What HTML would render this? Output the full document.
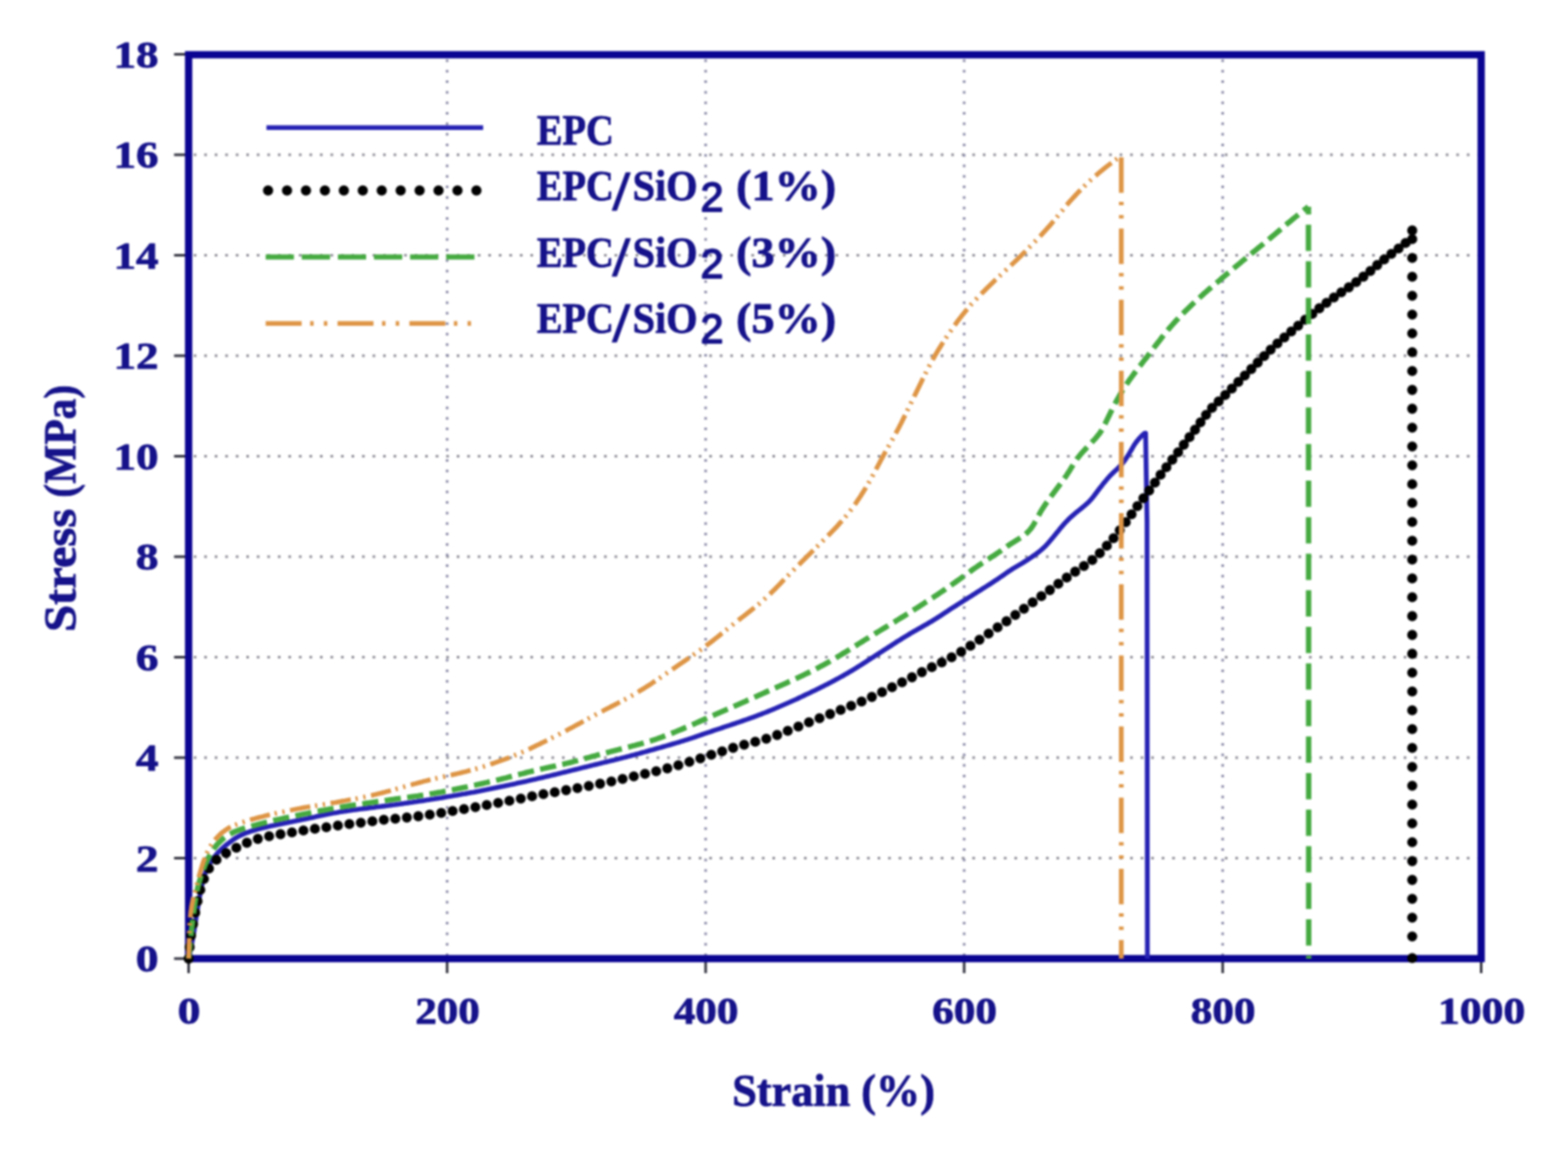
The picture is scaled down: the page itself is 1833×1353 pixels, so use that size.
<!DOCTYPE html>
<html><head><meta charset="utf-8"><title>Stress-strain curves</title>
<style>html,body{margin:0;padding:0;background:#fff;}body{width:1833px;height:1353px;overflow:hidden;}svg{display:block;filter:blur(1px);}</style>
</head><body>
<svg width="1833" height="1353" viewBox="0 0 1833 1353">
<style>text{stroke:#15128a;stroke-width:0.9px;stroke-linejoin:round;} text.sub{stroke-width:1.9px;}</style>
<rect width="1833" height="1353" fill="#ffffff"/>
<g stroke="#8c8c96" stroke-width="3" stroke-dasharray="3 9.3" fill="none"><line x1="226.5" y1="1003.5" x2="1727.5" y2="1003.5"/><line x1="226.5" y1="886.0" x2="1727.5" y2="886.0"/><line x1="226.5" y1="768.5" x2="1727.5" y2="768.5"/><line x1="226.5" y1="651.0" x2="1727.5" y2="651.0"/><line x1="226.5" y1="533.5" x2="1727.5" y2="533.5"/><line x1="226.5" y1="416.0" x2="1727.5" y2="416.0"/><line x1="226.5" y1="298.5" x2="1727.5" y2="298.5"/><line x1="226.5" y1="181.0" x2="1727.5" y2="181.0"/></g>
<g stroke="#8a8aa8" stroke-width="3" stroke-dasharray="3 9.3" fill="none"><line x1="522.7" y1="69.5" x2="522.7" y2="1117.0"/><line x1="824.9" y1="69.5" x2="824.9" y2="1117.0"/><line x1="1127.1" y1="69.5" x2="1127.1" y2="1117.0"/><line x1="1429.3" y1="69.5" x2="1429.3" y2="1117.0"/></g>
<g stroke="#333340" stroke-width="3" fill="none"><line x1="203.5" y1="1121.0" x2="220.5" y2="1121.0"/><line x1="203.5" y1="1003.5" x2="220.5" y2="1003.5"/><line x1="203.5" y1="886.0" x2="220.5" y2="886.0"/><line x1="203.5" y1="768.5" x2="220.5" y2="768.5"/><line x1="203.5" y1="651.0" x2="220.5" y2="651.0"/><line x1="203.5" y1="533.5" x2="220.5" y2="533.5"/><line x1="203.5" y1="416.0" x2="220.5" y2="416.0"/><line x1="203.5" y1="298.5" x2="220.5" y2="298.5"/><line x1="203.5" y1="181.0" x2="220.5" y2="181.0"/><line x1="203.5" y1="63.5" x2="220.5" y2="63.5"/><line x1="220.5" y1="1121.0" x2="220.5" y2="1138"/><line x1="522.7" y1="1121.0" x2="522.7" y2="1138"/><line x1="824.9" y1="1121.0" x2="824.9" y2="1138"/><line x1="1127.1" y1="1121.0" x2="1127.1" y2="1138"/><line x1="1429.3" y1="1121.0" x2="1429.3" y2="1138"/><line x1="1731.5" y1="1121.0" x2="1731.5" y2="1138"/></g>
<rect x="220.5" y="64.0" width="1511.0" height="1057.0" fill="none" stroke="#0a0492" stroke-width="8.5"/>
<path d="M220.5,1121.0 L221.0,1118.6 L221.6,1116.1 L222.1,1113.7 L222.7,1111.2 L223.2,1108.8 L223.7,1106.3 L224.1,1103.8 L224.6,1101.4 L225.1,1098.9 L225.5,1096.5 L225.9,1094.0 L226.4,1091.5 L226.8,1089.0 L227.2,1086.6 L227.5,1084.1 L227.9,1081.6 L228.3,1079.1 L228.7,1076.7 L229.1,1074.2 L229.4,1071.7 L229.8,1069.2 L230.2,1066.8 L230.6,1064.3 L231.1,1061.8 L231.5,1059.3 L231.9,1056.9 L232.4,1054.4 L232.8,1051.9 L233.2,1049.5 L233.7,1047.0 L234.1,1044.5 L234.6,1042.1 L235.1,1039.6 L235.6,1037.2 L236.1,1034.7 L236.6,1032.3 L237.2,1029.8 L237.9,1027.4 L238.6,1025.0 L239.4,1022.6 L240.3,1020.3 L241.2,1018.0 L242.3,1015.7 L243.4,1013.4 L244.6,1011.2 L245.8,1009.1 L247.1,1006.9 L248.6,1004.9 L250.0,1002.8 L251.6,1000.9 L253.2,998.9 L254.8,997.1 L256.6,995.2 L258.4,993.5 L260.2,991.8 L262.1,990.1 L264.0,988.5 L265.9,986.9 L267.9,985.4 L269.9,983.9 L271.9,982.4 L274.0,981.0 L276.1,979.7 L278.3,978.4 L280.5,977.2 L282.8,976.1 L285.1,975.1 L287.4,974.2 L289.7,973.3 L292.1,972.5 L294.5,971.7 L296.9,971.0 L299.3,970.3 L301.7,969.6 L304.1,969.0 L306.5,968.4 L309.0,967.7 L311.4,967.2 L313.9,966.6 L316.3,966.0 L318.7,965.5 L321.2,965.0 L323.6,964.5 L326.1,964.0 L328.6,963.5 L331.0,963.0 L333.5,962.6 L335.9,962.1 L338.4,961.6 L340.9,961.1 L343.3,960.6 L345.8,960.1 L348.2,959.6 L350.7,959.1 L353.1,958.6 L355.6,958.1 L358.0,957.5 L360.5,957.0 L362.9,956.4 L365.4,955.9 L367.8,955.4 L370.3,954.8 L372.7,954.3 L375.2,953.8 L377.6,953.2 L380.1,952.7 L382.5,952.2 L385.0,951.7 L387.5,951.3 L389.9,950.8 L392.4,950.4 L394.9,950.0 L397.3,949.5 L399.8,949.1 L402.3,948.8 L404.8,948.4 L407.2,948.0 L409.7,947.7 L412.2,947.3 L414.7,947.0 L417.2,946.7 L419.6,946.3 L422.1,946.0 L424.6,945.7 L427.1,945.4 L429.6,945.1 L432.1,944.8 L434.6,944.5 L437.1,944.2 L439.5,943.8 L442.0,943.5 L444.5,943.2 L447.0,942.9 L449.5,942.6 L452.0,942.3 L454.5,942.0 L456.9,941.6 L459.4,941.3 L461.9,941.0 L464.4,940.6 L466.9,940.3 L469.4,939.9 L471.8,939.6 L474.3,939.2 L476.8,938.9 L479.3,938.5 L481.8,938.2 L484.2,937.8 L486.7,937.5 L489.2,937.1 L491.7,936.7 L494.2,936.4 L496.6,936.0 L499.1,935.6 L501.6,935.2 L504.1,934.8 L506.5,934.5 L509.0,934.1 L511.5,933.7 L514.0,933.3 L516.4,932.9 L518.9,932.4 L521.4,932.0 L523.9,931.6 L526.3,931.2 L528.8,930.8 L531.3,930.3 L533.7,929.9 L536.2,929.5 L538.7,929.1 L541.1,928.6 L543.6,928.2 L546.1,927.7 L548.5,927.3 L551.0,926.8 L553.5,926.4 L555.9,925.9 L558.4,925.4 L560.9,925.0 L563.3,924.5 L565.8,924.0 L568.2,923.6 L570.7,923.1 L573.2,922.6 L575.6,922.1 L578.1,921.6 L580.5,921.1 L583.0,920.6 L585.4,920.1 L587.9,919.6 L590.3,919.0 L592.8,918.5 L595.2,918.0 L597.7,917.4 L600.1,916.9 L602.6,916.4 L605.0,915.8 L607.5,915.3 L609.9,914.8 L612.4,914.2 L614.8,913.7 L617.3,913.1 L619.7,912.5 L622.1,912.0 L624.6,911.4 L627.0,910.9 L629.5,910.3 L631.9,909.8 L634.4,909.2 L636.8,908.6 L639.2,908.0 L641.7,907.5 L644.1,906.9 L646.6,906.3 L649.0,905.7 L651.4,905.1 L653.9,904.5 L656.3,903.9 L658.7,903.3 L661.2,902.7 L663.6,902.1 L666.0,901.5 L668.5,900.9 L670.9,900.3 L673.3,899.7 L675.8,899.1 L678.2,898.5 L680.6,897.9 L683.0,897.3 L685.5,896.7 L687.9,896.1 L690.3,895.5 L692.8,894.9 L695.2,894.3 L697.6,893.7 L700.1,893.1 L702.5,892.5 L705.0,891.9 L707.4,891.3 L709.8,890.7 L712.3,890.1 L714.7,889.5 L717.1,889.0 L719.6,888.4 L722.0,887.7 L724.4,887.1 L726.8,886.5 L729.3,885.9 L731.7,885.3 L734.1,884.6 L736.6,884.0 L739.0,883.3 L741.4,882.7 L743.8,882.0 L746.2,881.4 L748.6,880.7 L751.1,880.0 L753.5,879.4 L755.9,878.7 L758.3,878.0 L760.7,877.3 L763.1,876.7 L765.5,876.0 L767.9,875.3 L770.4,874.6 L772.8,874.0 L775.2,873.3 L777.6,872.6 L780.0,871.9 L782.4,871.2 L784.8,870.5 L787.2,869.8 L789.6,869.1 L792.0,868.4 L794.4,867.7 L796.8,866.9 L799.2,866.2 L801.6,865.4 L804.0,864.7 L806.4,863.9 L808.8,863.1 L811.1,862.3 L813.5,861.5 L815.9,860.7 L818.2,859.8 L820.6,859.0 L823.0,858.2 L825.3,857.4 L827.7,856.6 L830.1,855.8 L832.5,855.0 L834.8,854.2 L837.2,853.4 L839.6,852.6 L842.0,851.8 L844.4,851.0 L846.7,850.2 L849.1,849.4 L851.5,848.6 L853.9,847.8 L856.2,847.0 L858.6,846.3 L861.0,845.4 L863.4,844.6 L865.7,843.8 L868.1,843.0 L870.5,842.2 L872.8,841.4 L875.2,840.5 L877.6,839.7 L879.9,838.8 L882.3,838.0 L884.6,837.1 L887.0,836.2 L889.3,835.3 L891.6,834.4 L894.0,833.5 L896.3,832.6 L898.6,831.6 L901.0,830.7 L903.3,829.7 L905.6,828.8 L907.9,827.8 L910.2,826.8 L912.5,825.8 L914.8,824.8 L917.1,823.8 L919.4,822.8 L921.7,821.8 L924.0,820.8 L926.2,819.7 L928.5,818.7 L930.8,817.7 L933.1,816.6 L935.3,815.5 L937.6,814.5 L939.9,813.4 L942.1,812.3 L944.4,811.2 L946.7,810.2 L948.9,809.1 L951.2,808.0 L953.4,806.9 L955.7,805.8 L957.9,804.7 L960.2,803.5 L962.4,802.4 L964.6,801.3 L966.9,800.2 L969.1,799.0 L971.3,797.9 L973.5,796.7 L975.8,795.5 L978.0,794.3 L980.2,793.1 L982.4,791.9 L984.6,790.7 L986.7,789.5 L988.9,788.2 L991.1,787.0 L993.3,785.7 L995.4,784.5 L997.6,783.2 L999.7,781.9 L1001.8,780.5 L1004.0,779.2 L1006.1,777.9 L1008.2,776.5 L1010.3,775.2 L1012.4,773.8 L1014.5,772.4 L1016.6,771.1 L1018.7,769.7 L1020.8,768.4 L1022.9,767.0 L1025.0,765.7 L1027.1,764.3 L1029.3,762.9 L1031.4,761.6 L1033.5,760.2 L1035.6,758.9 L1037.7,757.5 L1039.8,756.2 L1041.9,754.8 L1044.0,753.4 L1046.1,752.1 L1048.2,750.7 L1050.3,749.4 L1052.5,748.1 L1054.6,746.7 L1056.7,745.4 L1058.8,744.1 L1061.0,742.8 L1063.1,741.5 L1065.3,740.2 L1067.4,739.0 L1069.6,737.7 L1071.8,736.5 L1074.0,735.2 L1076.2,734.0 L1078.3,732.8 L1080.5,731.5 L1082.7,730.3 L1084.9,729.0 L1087.0,727.7 L1089.2,726.5 L1091.3,725.2 L1093.4,723.8 L1095.6,722.5 L1097.7,721.2 L1099.8,719.8 L1101.9,718.4 L1104.0,717.0 L1106.1,715.7 L1108.2,714.3 L1110.2,712.9 L1112.3,711.5 L1114.5,710.2 L1116.6,708.8 L1118.7,707.5 L1120.8,706.1 L1122.9,704.8 L1125.0,703.5 L1127.1,702.1 L1129.3,700.8 L1131.4,699.4 L1133.5,698.1 L1135.6,696.8 L1137.7,695.4 L1139.9,694.1 L1142.0,692.7 L1144.1,691.4 L1146.2,690.1 L1148.3,688.7 L1150.4,687.4 L1152.6,686.0 L1154.7,684.7 L1156.8,683.3 L1158.9,682.0 L1161.0,680.6 L1163.1,679.2 L1165.2,677.9 L1167.2,676.5 L1169.3,675.0 L1171.4,673.6 L1173.4,672.2 L1175.5,670.7 L1177.5,669.3 L1179.6,667.9 L1181.7,666.6 L1183.8,665.2 L1186.0,663.9 L1188.1,662.6 L1190.3,661.3 L1192.4,660.1 L1194.6,658.8 L1196.7,657.5 L1198.9,656.1 L1201.0,654.8 L1203.1,653.4 L1205.2,652.0 L1207.2,650.6 L1209.3,649.2 L1211.3,647.7 L1213.3,646.2 L1215.3,644.7 L1217.2,643.1 L1219.1,641.4 L1220.9,639.7 L1222.7,637.9 L1224.4,636.1 L1226.1,634.2 L1227.7,632.3 L1229.3,630.4 L1230.9,628.5 L1232.5,626.5 L1234.1,624.6 L1235.7,622.6 L1237.3,620.7 L1238.8,618.8 L1240.4,616.8 L1242.1,614.9 L1243.7,613.0 L1245.4,611.2 L1247.1,609.4 L1248.9,607.6 L1250.7,605.8 L1252.5,604.1 L1254.4,602.5 L1256.3,600.8 L1258.2,599.2 L1260.2,597.6 L1262.1,596.1 L1264.1,594.5 L1266.0,592.9 L1267.9,591.3 L1269.8,589.7 L1271.7,588.0 L1273.5,586.2 L1275.2,584.4 L1276.8,582.5 L1278.4,580.5 L1279.9,578.5 L1281.4,576.5 L1282.9,574.5 L1284.4,572.5 L1285.9,570.5 L1287.5,568.6 L1289.0,566.6 L1290.6,564.6 L1292.2,562.7 L1293.8,560.8 L1295.4,558.9 L1297.1,557.0 L1298.8,555.2 L1300.6,553.4 L1302.4,551.7 L1304.2,550.0 L1306.1,548.3 L1307.9,546.5 L1309.6,544.7 L1311.3,542.9 L1312.9,540.9 L1314.4,539.0 L1315.9,536.9 L1317.3,534.8 L1318.6,532.7 L1319.9,530.6 L1321.2,528.4 L1322.5,526.3 L1323.7,524.1 L1325.0,521.9 L1326.3,519.8 L1327.7,517.7 L1329.2,515.7 L1330.8,513.8 L1332.5,511.9 L1334.2,510.1 L1336.0,508.4 L1338.3,506.5 L1339.2,506.5 L1340.9,609.7 L1341.3,1121.0" fill="none" stroke="#2622b4" stroke-width="5.6" stroke-linejoin="round"/>
<path d="M220.5,1121.0h0 M221.7,1107.5h0 M223.4,1094.0h0 M225.7,1080.6h0 M228.2,1067.2h0 M230.9,1053.9h0 M234.1,1040.7h0 M238.4,1027.8h0 M244.3,1015.6h0 M253.1,1005.3h0 M264.3,997.6h0 M276.3,991.3h0 M288.6,985.5h0 M301.4,981.0h0 M314.6,977.9h0 M327.9,975.5h0 M341.3,973.4h0 M354.7,971.2h0 M368.1,969.2h0 M381.5,967.3h0 M395.0,965.4h0 M408.4,963.7h0 M421.8,962.1h0 M435.3,960.4h0 M448.7,958.7h0 M462.1,957.3h0 M475.6,956.0h0 M489.0,954.5h0 M502.4,952.6h0 M515.8,950.6h0 M529.1,948.4h0 M542.4,946.2h0 M555.7,943.8h0 M569.0,941.4h0 M582.3,938.9h0 M595.5,936.4h0 M608.8,933.8h0 M622.0,931.2h0 M635.2,928.7h0 M648.5,926.3h0 M661.8,924.0h0 M675.0,921.6h0 M688.3,919.1h0 M701.5,916.5h0 M714.7,913.8h0 M727.8,910.9h0 M740.9,907.9h0 M754.0,904.8h0 M767.1,901.8h0 M780.1,898.5h0 M793.0,894.9h0 M805.9,890.9h0 M818.7,886.8h0 M831.5,882.7h0 M844.2,878.6h0 M857.0,874.5h0 M869.9,870.8h0 M882.9,867.4h0 M895.8,863.8h0 M908.5,859.5h0 M920.9,854.7h0 M933.3,849.6h0 M945.7,844.7h0 M958.0,839.9h0 M970.4,835.0h0 M982.7,830.2h0 M995.0,825.3h0 M1007.2,820.3h0 M1019.2,815.0h0 M1031.1,809.4h0 M1042.8,803.7h0 M1054.5,797.9h0 M1066.1,792.0h0 M1077.7,786.0h0 M1089.3,780.2h0 M1100.9,774.6h0 M1112.4,768.7h0 M1123.6,762.2h0 M1134.4,755.2h0 M1145.0,748.1h0 M1155.7,740.9h0 M1166.2,733.7h0 M1176.6,726.5h0 M1186.9,719.1h0 M1197.0,711.8h0 M1207.2,704.4h0 M1217.3,697.2h0 M1227.3,690.0h0 M1237.2,682.7h0 M1247.0,675.4h0 M1256.9,668.5h0 M1267.1,661.9h0 M1276.9,654.9h0 M1285.7,646.9h0 M1293.9,638.2h0 M1301.7,629.3h0 M1309.0,620.1h0 M1316.0,610.7h0 M1322.8,601.3h0 M1329.6,591.9h0 M1336.6,582.7h0 M1343.4,573.6h0 M1350.1,564.4h0 M1356.7,555.2h0 M1363.5,546.3h0 M1370.4,537.5h0 M1377.2,528.8h0 M1383.9,520.0h0 M1390.5,511.2h0 M1397.0,502.5h0 M1403.4,493.8h0 M1409.9,485.1h0 M1416.9,476.9h0 M1424.6,469.4h0 M1432.3,461.9h0 M1440.0,454.3h0 M1447.6,446.7h0 M1455.2,439.1h0 M1462.8,431.5h0 M1470.3,424.0h0 M1477.8,416.3h0 M1485.4,408.8h0 M1493.3,401.6h0 M1501.4,394.6h0 M1509.5,387.7h0 M1517.6,380.8h0 M1525.8,373.9h0 M1534.0,367.2h0 M1542.3,360.5h0 M1550.7,354.1h0 M1559.3,347.9h0 M1568.0,341.9h0 M1576.8,336.0h0 M1585.4,329.9h0 M1593.8,323.5h0 M1602.0,316.8h0 M1610.0,310.0h0 M1618.1,303.3h0 M1626.5,296.9h0 M1634.9,290.7h0 M1643.1,284.2h0 M1650.9,269.5h0 M1650.9,279.7h0 M1650.9,301.7h0 M1650.9,323.7h0 M1650.9,345.8h0 M1650.9,367.8h0 M1650.9,389.9h0 M1650.9,411.9h0 M1650.9,433.9h0 M1650.9,456.0h0 M1650.9,478.0h0 M1650.9,500.1h0 M1650.9,522.1h0 M1650.9,544.1h0 M1650.9,566.2h0 M1650.9,588.2h0 M1650.9,610.3h0 M1650.9,632.3h0 M1650.9,654.3h0 M1650.9,676.4h0 M1650.9,698.4h0 M1650.9,720.5h0 M1650.9,742.5h0 M1650.9,764.5h0 M1650.9,786.6h0 M1650.9,808.6h0 M1650.9,830.7h0 M1650.9,852.7h0 M1650.9,874.7h0 M1650.9,896.8h0 M1650.9,918.8h0 M1650.9,940.9h0 M1650.9,962.9h0 M1650.9,984.9h0 M1650.9,1007.0h0 M1650.9,1029.0h0 M1650.9,1051.1h0 M1650.9,1073.1h0 M1650.9,1095.1h0 M1650.9,1120.3h0" fill="none" stroke="#000" stroke-width="11.8" stroke-linecap="round"/>
<path d="M220.5,1121.0 L220.7,1118.5 L221.0,1116.0 L221.2,1113.5 L221.5,1111.0 L221.7,1108.5 L222.0,1106.0 L222.2,1103.5 L222.5,1101.1 L222.7,1098.6 L223.0,1096.1 L223.3,1093.6 L223.6,1091.1 L223.8,1088.6 L224.1,1086.1 L224.4,1083.6 L224.7,1081.1 L225.0,1078.6 L225.3,1076.2 L225.6,1073.7 L225.9,1071.2 L226.2,1068.7 L226.5,1066.2 L226.8,1063.7 L227.1,1061.2 L227.5,1058.8 L227.8,1056.3 L228.2,1053.8 L228.6,1051.3 L229.0,1048.9 L229.5,1046.4 L230.0,1043.9 L230.5,1041.5 L231.0,1039.0 L231.6,1036.6 L232.2,1034.2 L232.9,1031.7 L233.6,1029.3 L234.3,1026.9 L235.0,1024.5 L235.8,1022.2 L236.6,1019.8 L237.5,1017.4 L238.4,1015.1 L239.3,1012.8 L240.3,1010.5 L241.3,1008.2 L242.4,1005.9 L243.4,1003.6 L244.6,1001.4 L245.7,999.2 L247.0,997.0 L248.3,994.9 L249.7,992.8 L251.2,990.8 L252.8,988.9 L254.4,987.0 L256.2,985.2 L258.0,983.4 L259.8,981.7 L261.8,980.1 L263.8,978.6 L265.8,977.2 L268.0,975.9 L270.2,974.7 L272.4,973.6 L274.7,972.5 L277.0,971.6 L279.3,970.7 L281.7,969.8 L284.1,969.1 L286.5,968.3 L288.9,967.6 L291.3,966.9 L293.7,966.2 L296.1,965.6 L298.5,964.9 L300.9,964.2 L303.4,963.6 L305.8,963.0 L308.2,962.4 L310.6,961.7 L313.1,961.1 L315.5,960.6 L317.9,960.0 L320.4,959.4 L322.8,958.8 L325.3,958.3 L327.7,957.8 L330.2,957.2 L332.6,956.7 L335.1,956.2 L337.5,955.6 L340.0,955.1 L342.4,954.6 L344.9,954.1 L347.3,953.6 L349.8,953.1 L352.2,952.5 L354.7,952.0 L357.1,951.5 L359.6,951.1 L362.1,950.6 L364.5,950.1 L367.0,949.6 L369.4,949.1 L371.9,948.7 L374.4,948.2 L376.8,947.7 L379.3,947.3 L381.7,946.8 L384.2,946.4 L386.7,945.9 L389.1,945.5 L391.6,945.1 L394.1,944.7 L396.6,944.2 L399.0,943.8 L401.5,943.4 L404.0,943.0 L406.5,942.6 L408.9,942.2 L411.4,941.8 L413.9,941.5 L416.4,941.1 L418.8,940.7 L421.3,940.3 L423.8,940.0 L426.3,939.6 L428.7,939.2 L431.2,938.9 L433.7,938.5 L436.2,938.2 L438.7,937.8 L441.1,937.4 L443.6,937.1 L446.1,936.7 L448.6,936.4 L451.1,936.0 L453.5,935.7 L456.0,935.3 L458.5,935.0 L461.0,934.6 L463.5,934.2 L465.9,933.9 L468.4,933.5 L470.9,933.2 L473.4,932.9 L475.9,932.5 L478.4,932.2 L480.8,931.8 L483.3,931.5 L485.8,931.1 L488.3,930.8 L490.8,930.4 L493.2,930.0 L495.7,929.7 L498.2,929.3 L500.7,928.9 L503.1,928.4 L505.6,928.0 L508.1,927.6 L510.5,927.2 L513.0,926.7 L515.5,926.3 L517.9,925.8 L520.4,925.3 L522.9,924.9 L525.3,924.4 L527.8,923.9 L530.2,923.4 L532.7,922.9 L535.1,922.4 L537.6,921.9 L540.0,921.4 L542.5,920.9 L545.0,920.4 L547.4,919.8 L549.9,919.3 L552.3,918.8 L554.8,918.3 L557.2,917.7 L559.6,917.2 L562.1,916.6 L564.5,916.1 L567.0,915.5 L569.4,915.0 L571.9,914.4 L574.3,913.9 L576.7,913.3 L579.2,912.7 L581.6,912.1 L584.0,911.5 L586.5,910.9 L588.9,910.3 L591.3,909.7 L593.8,909.0 L596.2,908.4 L598.6,907.8 L601.0,907.2 L603.5,906.5 L605.9,905.9 L608.3,905.3 L610.8,904.7 L613.2,904.1 L615.6,903.4 L618.0,902.8 L620.5,902.2 L622.9,901.6 L625.3,901.0 L627.8,900.5 L630.2,899.9 L632.7,899.3 L635.1,898.8 L637.5,898.2 L640.0,897.7 L642.4,897.1 L644.9,896.6 L647.3,896.1 L649.8,895.6 L652.2,895.0 L654.7,894.5 L657.1,893.9 L659.6,893.4 L662.0,892.8 L664.4,892.2 L666.9,891.6 L669.3,891.0 L671.7,890.3 L674.1,889.7 L676.6,889.0 L679.0,888.4 L681.4,887.7 L683.8,887.0 L686.2,886.3 L688.6,885.7 L691.0,885.0 L693.5,884.3 L695.9,883.7 L698.3,883.0 L700.7,882.4 L703.1,881.7 L705.6,881.1 L708.0,880.5 L710.4,879.9 L712.9,879.3 L715.3,878.6 L717.7,878.0 L720.1,877.4 L722.6,876.8 L725.0,876.1 L727.4,875.5 L729.8,874.9 L732.3,874.2 L734.7,873.6 L737.1,873.0 L739.5,872.3 L742.0,871.7 L744.4,871.0 L746.8,870.4 L749.2,869.7 L751.6,869.1 L754.0,868.4 L756.4,867.7 L758.8,866.9 L761.2,866.2 L763.6,865.4 L766.0,864.7 L768.4,863.9 L770.7,863.0 L773.1,862.2 L775.5,861.3 L777.8,860.4 L780.1,859.5 L782.5,858.6 L784.8,857.7 L787.1,856.8 L789.4,855.8 L791.8,854.9 L794.1,853.9 L796.4,853.0 L798.7,852.0 L801.0,851.0 L803.3,850.1 L805.6,849.1 L807.9,848.1 L810.2,847.1 L812.5,846.1 L814.8,845.0 L817.1,844.0 L819.4,843.0 L821.7,842.0 L824.0,841.0 L826.3,840.0 L828.5,838.9 L830.8,837.9 L833.1,836.9 L835.4,835.9 L837.7,834.9 L840.0,833.9 L842.3,832.9 L844.6,831.9 L846.9,830.9 L849.2,829.9 L851.5,828.9 L853.8,827.9 L856.1,826.8 L858.4,825.8 L860.7,824.8 L863.0,823.8 L865.2,822.8 L867.5,821.8 L869.8,820.8 L872.1,819.8 L874.4,818.7 L876.7,817.7 L879.0,816.7 L881.3,815.7 L883.6,814.7 L885.8,813.6 L888.1,812.6 L890.4,811.6 L892.7,810.5 L895.0,809.5 L897.3,808.5 L899.6,807.5 L901.8,806.4 L904.1,805.4 L906.4,804.4 L908.7,803.4 L911.0,802.4 L913.3,801.3 L915.6,800.3 L917.9,799.3 L920.1,798.3 L922.4,797.2 L924.7,796.2 L927.0,795.2 L929.3,794.1 L931.5,793.1 L933.8,792.0 L936.1,791.0 L938.4,789.9 L940.6,788.8 L942.9,787.7 L945.1,786.6 L947.4,785.5 L949.6,784.4 L951.9,783.3 L954.1,782.1 L956.3,781.0 L958.5,779.8 L960.7,778.6 L962.9,777.5 L965.1,776.2 L967.3,775.0 L969.5,773.8 L971.7,772.5 L973.9,771.3 L976.0,770.0 L978.2,768.7 L980.3,767.4 L982.5,766.1 L984.6,764.8 L986.7,763.5 L988.9,762.2 L991.0,760.9 L993.1,759.6 L995.3,758.2 L997.4,756.9 L999.5,755.6 L1001.6,754.3 L1003.7,752.9 L1005.9,751.6 L1008.0,750.3 L1010.1,748.9 L1012.2,747.6 L1014.4,746.3 L1016.5,744.9 L1018.6,743.6 L1020.8,742.3 L1022.9,741.0 L1025.0,739.7 L1027.2,738.4 L1029.3,737.1 L1031.5,735.8 L1033.6,734.5 L1035.7,733.2 L1037.9,731.9 L1040.0,730.6 L1042.2,729.3 L1044.3,728.0 L1046.5,726.7 L1048.6,725.4 L1050.7,724.1 L1052.9,722.8 L1055.0,721.5 L1057.1,720.2 L1059.3,718.8 L1061.4,717.5 L1063.5,716.2 L1065.6,714.8 L1067.7,713.5 L1069.9,712.2 L1072.0,710.8 L1074.1,709.5 L1076.2,708.1 L1078.3,706.8 L1080.4,705.4 L1082.5,704.0 L1084.6,702.7 L1086.7,701.3 L1088.8,699.9 L1090.9,698.6 L1093.0,697.2 L1095.1,695.8 L1097.2,694.4 L1099.2,693.0 L1101.3,691.6 L1103.4,690.2 L1105.4,688.8 L1107.5,687.3 L1109.6,685.9 L1111.6,684.5 L1113.7,683.0 L1115.7,681.6 L1117.8,680.1 L1119.8,678.7 L1121.8,677.2 L1123.9,675.8 L1125.9,674.3 L1127.9,672.8 L1130.0,671.3 L1132.0,669.9 L1134.0,668.4 L1136.0,666.9 L1138.1,665.4 L1140.1,664.0 L1142.2,662.6 L1144.2,661.2 L1146.3,659.8 L1148.4,658.4 L1150.5,657.0 L1152.6,655.6 L1154.7,654.3 L1156.8,652.9 L1158.9,651.5 L1161.0,650.2 L1163.1,648.8 L1165.2,647.4 L1167.2,646.0 L1169.3,644.6 L1171.4,643.1 L1173.4,641.7 L1175.5,640.3 L1177.5,638.8 L1179.6,637.4 L1181.7,636.0 L1183.8,634.7 L1185.9,633.3 L1188.0,632.0 L1190.2,630.7 L1192.3,629.3 L1194.4,628.0 L1196.4,626.5 L1198.4,625.0 L1200.3,623.4 L1202.1,621.6 L1203.8,619.8 L1205.4,617.8 L1206.8,615.8 L1208.2,613.7 L1209.4,611.5 L1210.7,609.3 L1211.8,607.1 L1213.0,604.9 L1214.2,602.7 L1215.4,600.5 L1216.6,598.3 L1217.9,596.2 L1219.3,594.0 L1220.6,591.9 L1222.0,589.9 L1223.4,587.8 L1224.9,585.8 L1226.3,583.7 L1227.8,581.7 L1229.3,579.7 L1230.8,577.6 L1232.3,575.6 L1233.8,573.6 L1235.3,571.6 L1236.8,569.6 L1238.3,567.6 L1239.8,565.6 L1241.3,563.6 L1242.8,561.6 L1244.2,559.5 L1245.7,557.5 L1247.1,555.4 L1248.4,553.3 L1249.8,551.2 L1251.1,549.1 L1252.4,546.9 L1253.7,544.8 L1255.0,542.6 L1256.4,540.5 L1257.8,538.5 L1259.2,536.4 L1260.7,534.4 L1262.3,532.5 L1263.9,530.5 L1265.6,528.7 L1267.3,526.8 L1269.0,525.0 L1270.7,523.2 L1272.4,521.4 L1274.2,519.6 L1275.9,517.7 L1277.6,515.9 L1279.3,514.1 L1281.0,512.3 L1282.6,510.3 L1284.2,508.4 L1285.7,506.4 L1287.1,504.3 L1288.4,502.1 L1289.6,499.9 L1290.7,497.7 L1291.9,495.5 L1293.0,493.2 L1294.1,491.0 L1295.2,488.7 L1296.3,486.5 L1297.4,484.2 L1298.5,482.0 L1299.6,479.7 L1300.7,477.5 L1301.8,475.2 L1303.0,473.0 L1304.2,470.8 L1305.3,468.6 L1306.6,466.4 L1307.8,464.2 L1309.0,462.1 L1310.3,459.9 L1311.6,457.7 L1312.9,455.6 L1314.2,453.5 L1315.6,451.4 L1317.0,449.3 L1318.4,447.2 L1319.8,445.1 L1321.2,443.1 L1322.7,441.1 L1324.2,439.0 L1325.7,437.0 L1327.2,435.0 L1328.7,433.0 L1330.2,431.0 L1331.7,429.0 L1333.3,427.1 L1334.8,425.1 L1336.3,423.1 L1337.9,421.1 L1339.4,419.2 L1341.0,417.2 L1342.5,415.2 L1344.0,413.2 L1345.5,411.2 L1347.1,409.2 L1348.6,407.2 L1350.1,405.2 L1351.6,403.2 L1353.1,401.3 L1354.7,399.3 L1356.2,397.3 L1357.7,395.3 L1359.3,393.3 L1360.8,391.4 L1362.4,389.4 L1364.0,387.5 L1365.6,385.5 L1367.2,383.6 L1368.8,381.7 L1370.5,379.8 L1372.2,378.0 L1373.8,376.1 L1375.5,374.3 L1377.3,372.5 L1379.0,370.6 L1380.7,368.8 L1382.5,367.0 L1384.2,365.3 L1386.0,363.5 L1387.8,361.7 L1389.6,360.0 L1391.4,358.2 L1393.2,356.5 L1395.0,354.8 L1396.8,353.1 L1398.7,351.4 L1400.5,349.7 L1402.4,348.0 L1404.2,346.3 L1406.1,344.6 L1407.9,342.9 L1409.8,341.3 L1411.7,339.6 L1413.6,338.0 L1415.5,336.4 L1417.4,334.7 L1419.3,333.1 L1421.2,331.5 L1423.2,329.9 L1425.1,328.3 L1427.0,326.7 L1428.9,325.0 L1430.8,323.4 L1432.7,321.8 L1434.6,320.2 L1436.6,318.6 L1438.5,316.9 L1440.4,315.3 L1442.3,313.7 L1444.2,312.1 L1446.1,310.5 L1448.1,308.9 L1450.0,307.3 L1451.9,305.7 L1453.8,304.1 L1455.8,302.5 L1457.7,300.9 L1459.6,299.3 L1461.6,297.7 L1463.5,296.1 L1465.4,294.5 L1467.4,292.9 L1469.3,291.3 L1471.2,289.7 L1473.2,288.1 L1475.1,286.6 L1477.1,285.0 L1479.0,283.4 L1480.9,281.8 L1482.9,280.2 L1484.8,278.6 L1486.7,277.0 L1488.6,275.4 L1490.5,273.8 L1492.5,272.1 L1494.4,270.5 L1496.3,268.9 L1498.2,267.3 L1500.1,265.7 L1502.0,264.0 L1503.9,262.4 L1505.8,260.8 L1507.8,259.2 L1509.7,257.6 L1511.6,256.0 L1513.6,254.4 L1515.5,252.9 L1517.5,251.3 L1519.4,249.7 L1521.4,248.1 L1523.3,246.6 L1525.3,245.0 L1527.3,243.5 L1529.4,241.8" fill="none" stroke="#45aa40" stroke-width="6.3" stroke-dasharray="19 7.5"/>
<path d="M1529.6,241.8 L1529.9,1121.0" fill="none" stroke="#45aa40" stroke-width="6.3" stroke-dasharray="30.8 11.95" stroke-dashoffset="21.85"/>
<path d="M220.5,1121.0 L220.6,1118.5 L220.6,1116.0 L220.7,1113.5 L220.8,1111.0 L220.9,1108.5 L220.9,1106.0 L221.0,1103.5 L221.1,1101.0 L221.2,1098.5 L221.2,1096.0 L221.3,1093.5 L221.4,1091.0 L221.5,1088.4 L221.6,1085.9 L221.7,1083.4 L221.8,1080.9 L222.0,1078.4 L222.2,1075.9 L222.4,1073.4 L222.6,1071.0 L222.9,1068.5 L223.2,1066.0 L223.6,1063.5 L223.9,1061.0 L224.3,1058.5 L224.8,1056.1 L225.3,1053.6 L225.8,1051.2 L226.4,1048.8 L227.1,1046.3 L227.7,1043.9 L228.4,1041.5 L229.0,1039.1 L229.7,1036.7 L230.3,1034.2 L230.9,1031.8 L231.5,1029.4 L232.2,1026.9 L232.8,1024.5 L233.4,1022.1 L234.1,1019.7 L234.8,1017.3 L235.5,1014.9 L236.2,1012.5 L237.0,1010.1 L237.8,1007.7 L238.7,1005.4 L239.6,1003.0 L240.5,1000.7 L241.5,998.4 L242.5,996.1 L243.6,993.9 L244.8,991.7 L246.1,989.5 L247.4,987.4 L248.8,985.3 L250.3,983.3 L251.9,981.4 L253.6,979.5 L255.3,977.7 L257.1,975.9 L258.9,974.2 L260.9,972.7 L262.9,971.2 L265.0,969.8 L267.1,968.5 L269.3,967.3 L271.6,966.2 L273.8,965.1 L276.2,964.2 L278.5,963.3 L280.8,962.4 L283.2,961.6 L285.6,960.9 L288.0,960.1 L290.4,959.4 L292.8,958.7 L295.2,958.0 L297.6,957.4 L300.0,956.7 L302.5,956.0 L304.9,955.4 L307.3,954.8 L309.7,954.1 L312.2,953.5 L314.6,952.9 L317.0,952.3 L319.5,951.8 L321.9,951.2 L324.4,950.7 L326.8,950.1 L329.2,949.6 L331.7,949.1 L334.1,948.5 L336.6,948.0 L339.1,947.5 L341.5,947.1 L344.0,946.6 L346.4,946.1 L348.9,945.6 L351.4,945.2 L353.8,944.7 L356.3,944.3 L358.8,943.9 L361.2,943.5 L363.7,943.1 L366.2,942.7 L368.6,942.3 L371.1,941.9 L373.6,941.5 L376.1,941.1 L378.5,940.7 L381.0,940.3 L383.5,939.9 L386.0,939.4 L388.4,939.0 L390.9,938.6 L393.4,938.2 L395.8,937.7 L398.3,937.3 L400.8,936.8 L403.2,936.4 L405.7,935.9 L408.1,935.4 L410.6,935.0 L413.1,934.5 L415.5,934.0 L418.0,933.6 L420.4,933.1 L422.9,932.6 L425.4,932.1 L427.8,931.6 L430.3,931.0 L432.7,930.5 L435.1,930.0 L437.6,929.4 L440.0,928.8 L442.5,928.2 L444.9,927.6 L447.3,927.0 L449.7,926.4 L452.2,925.7 L454.6,925.1 L457.0,924.4 L459.4,923.7 L461.8,923.0 L464.2,922.3 L466.6,921.7 L469.0,921.0 L471.4,920.3 L473.9,919.6 L476.3,918.9 L478.7,918.2 L481.1,917.6 L483.5,916.9 L485.9,916.3 L488.4,915.6 L490.8,915.0 L493.2,914.4 L495.6,913.7 L498.1,913.1 L500.5,912.5 L502.9,911.9 L505.4,911.3 L507.8,910.8 L510.2,910.2 L512.7,909.6 L515.1,909.1 L517.6,908.5 L520.0,908.0 L522.5,907.5 L524.9,906.9 L527.4,906.4 L529.8,905.8 L532.2,905.3 L534.7,904.7 L537.1,904.1 L539.5,903.5 L542.0,902.9 L544.4,902.3 L546.8,901.7 L549.2,901.0 L551.7,900.3 L554.1,899.7 L556.5,899.0 L558.9,898.3 L561.3,897.5 L563.7,896.8 L566.1,896.1 L568.5,895.3 L570.8,894.5 L573.2,893.7 L575.6,893.0 L578.0,892.2 L580.3,891.3 L582.7,890.5 L585.1,889.7 L587.4,888.8 L589.8,888.0 L592.1,887.1 L594.5,886.2 L596.8,885.3 L599.1,884.4 L601.5,883.4 L603.8,882.5 L606.1,881.5 L608.4,880.5 L610.7,879.5 L613.0,878.5 L615.3,877.5 L617.5,876.4 L619.8,875.4 L622.1,874.3 L624.3,873.2 L626.6,872.1 L628.8,871.1 L631.1,870.0 L633.3,868.8 L635.6,867.7 L637.8,866.6 L640.1,865.5 L642.3,864.4 L644.5,863.3 L646.8,862.1 L649.0,861.0 L651.3,859.9 L653.5,858.7 L655.7,857.6 L657.9,856.4 L660.2,855.3 L662.4,854.1 L664.6,852.9 L666.8,851.7 L669.0,850.6 L671.2,849.4 L673.4,848.2 L675.6,847.0 L677.8,845.8 L680.0,844.6 L682.2,843.4 L684.4,842.2 L686.6,841.0 L688.8,839.8 L691.0,838.6 L693.2,837.4 L695.4,836.2 L697.6,835.1 L699.9,833.9 L702.1,832.7 L704.3,831.6 L706.5,830.4 L708.7,829.3 L711.0,828.1 L713.2,827.0 L715.4,825.8 L717.6,824.7 L719.9,823.5 L722.1,822.4 L724.3,821.2 L726.5,820.0 L728.7,818.8 L730.9,817.7 L733.1,816.5 L735.3,815.3 L737.5,814.0 L739.7,812.8 L741.9,811.6 L744.0,810.3 L746.2,809.0 L748.3,807.7 L750.5,806.4 L752.6,805.1 L754.7,803.8 L756.8,802.4 L759.0,801.1 L761.1,799.7 L763.1,798.3 L765.2,796.9 L767.3,795.5 L769.4,794.1 L771.5,792.7 L773.5,791.3 L775.6,789.9 L777.7,788.5 L779.7,787.1 L781.8,785.6 L783.8,784.2 L785.9,782.8 L788.0,781.4 L790.0,779.9 L792.1,778.5 L794.2,777.1 L796.2,775.7 L798.3,774.3 L800.4,772.9 L802.4,771.4 L804.5,770.0 L806.6,768.6 L808.6,767.2 L810.7,765.7 L812.7,764.3 L814.8,762.9 L816.8,761.4 L818.8,760.0 L820.9,758.5 L822.9,757.0 L824.9,755.5 L826.9,754.0 L828.9,752.5 L830.9,751.0 L832.9,749.5 L834.9,747.9 L836.8,746.4 L838.8,744.8 L840.8,743.3 L842.7,741.7 L844.7,740.1 L846.6,738.5 L848.6,737.0 L850.5,735.4 L852.5,733.8 L854.4,732.3 L856.4,730.7 L858.3,729.1 L860.3,727.6 L862.3,726.0 L864.2,724.5 L866.2,722.9 L868.2,721.4 L870.2,719.9 L872.1,718.3 L874.1,716.8 L876.1,715.2 L878.1,713.7 L880.0,712.1 L882.0,710.6 L883.9,709.0 L885.8,707.4 L887.8,705.8 L889.7,704.1 L891.6,702.5 L893.4,700.8 L895.3,699.1 L897.1,697.4 L898.9,695.7 L900.7,694.0 L902.5,692.2 L904.3,690.4 L906.1,688.7 L907.8,686.9 L909.6,685.1 L911.3,683.3 L913.1,681.5 L914.8,679.7 L916.5,677.9 L918.3,676.1 L920.0,674.3 L921.8,672.5 L923.5,670.7 L925.3,668.9 L927.1,667.2 L928.8,665.4 L930.6,663.6 L932.4,661.8 L934.2,660.1 L935.9,658.3 L937.7,656.5 L939.5,654.8 L941.3,653.0 L943.0,651.2 L944.8,649.5 L946.6,647.7 L948.4,645.9 L950.1,644.2 L951.9,642.4 L953.7,640.6 L955.5,638.9 L957.2,637.1 L959.0,635.4 L960.8,633.6 L962.6,631.8 L964.4,630.1 L966.1,628.3 L967.9,626.5 L969.6,624.7 L971.4,622.9 L973.1,621.1 L974.8,619.3 L976.6,617.5 L978.3,615.6 L980.0,613.8 L981.6,611.9 L983.3,610.1 L985.0,608.2 L986.6,606.3 L988.2,604.4 L989.8,602.5 L991.4,600.5 L993.0,598.6 L994.5,596.6 L996.0,594.6 L997.5,592.6 L999.0,590.5 L1000.4,588.5 L1001.8,586.4 L1003.2,584.3 L1004.6,582.3 L1006.0,580.2 L1007.3,578.0 L1008.7,575.9 L1010.0,573.8 L1011.3,571.7 L1012.6,569.5 L1013.9,567.4 L1015.2,565.2 L1016.4,563.0 L1017.6,560.9 L1018.9,558.7 L1020.0,556.5 L1021.2,554.3 L1022.4,552.0 L1023.6,549.8 L1024.8,547.6 L1025.9,545.4 L1027.1,543.2 L1028.3,541.0 L1029.4,538.8 L1030.6,536.6 L1031.8,534.3 L1033.0,532.2 L1034.2,530.0 L1035.4,527.8 L1036.7,525.6 L1037.9,523.4 L1039.1,521.2 L1040.3,519.0 L1041.6,516.8 L1042.8,514.7 L1044.0,512.5 L1045.2,510.3 L1046.4,508.1 L1047.6,505.9 L1048.8,503.7 L1050.0,501.5 L1051.2,499.3 L1052.3,497.0 L1053.5,494.8 L1054.6,492.6 L1055.7,490.3 L1056.8,488.1 L1057.9,485.8 L1059.0,483.6 L1060.1,481.3 L1061.2,479.1 L1062.3,476.8 L1063.4,474.6 L1064.5,472.3 L1065.6,470.1 L1066.7,467.8 L1067.8,465.6 L1068.9,463.3 L1070.0,461.1 L1071.1,458.8 L1072.2,456.5 L1073.3,454.3 L1074.4,452.0 L1075.5,449.8 L1076.6,447.5 L1077.7,445.3 L1078.7,443.0 L1079.9,440.8 L1081.0,438.5 L1082.1,436.3 L1083.2,434.0 L1084.3,431.8 L1085.5,429.6 L1086.6,427.4 L1087.8,425.2 L1089.0,423.0 L1090.2,420.8 L1091.4,418.6 L1092.7,416.4 L1093.9,414.2 L1095.2,412.1 L1096.5,409.9 L1097.8,407.8 L1099.1,405.7 L1100.5,403.5 L1101.8,401.4 L1103.1,399.3 L1104.5,397.2 L1105.9,395.1 L1107.2,393.0 L1108.6,390.9 L1110.0,388.9 L1111.5,386.8 L1112.9,384.7 L1114.3,382.7 L1115.8,380.6 L1117.3,378.6 L1118.7,376.6 L1120.2,374.6 L1121.7,372.6 L1123.3,370.6 L1124.8,368.6 L1126.4,366.7 L1128.0,364.7 L1129.6,362.8 L1131.2,360.9 L1132.8,359.0 L1134.5,357.1 L1136.1,355.2 L1137.8,353.4 L1139.5,351.6 L1141.3,349.7 L1143.0,347.9 L1144.7,346.1 L1146.5,344.3 L1148.2,342.5 L1150.0,340.8 L1151.8,339.0 L1153.5,337.2 L1155.3,335.4 L1157.1,333.7 L1158.9,331.9 L1160.7,330.2 L1162.5,328.4 L1164.3,326.7 L1166.1,325.0 L1167.9,323.3 L1169.8,321.6 L1171.6,319.9 L1173.4,318.2 L1175.3,316.4 L1177.1,314.7 L1178.9,313.0 L1180.8,311.3 L1182.6,309.6 L1184.4,307.9 L1186.2,306.1 L1188.0,304.4 L1189.8,302.7 L1191.6,300.9 L1193.4,299.2 L1195.2,297.4 L1196.9,295.6 L1198.7,293.9 L1200.5,292.1 L1202.2,290.3 L1204.0,288.5 L1205.8,286.7 L1207.5,284.9 L1209.2,283.1 L1211.0,281.3 L1212.7,279.5 L1214.4,277.7 L1216.2,275.9 L1217.9,274.1 L1219.6,272.2 L1221.3,270.4 L1223.0,268.5 L1224.6,266.7 L1226.3,264.8 L1228.0,262.9 L1229.6,261.0 L1231.2,259.1 L1232.8,257.2 L1234.4,255.2 L1236.0,253.3 L1237.5,251.3 L1239.1,249.4 L1240.7,247.4 L1242.3,245.5 L1243.8,243.5 L1245.4,241.6 L1247.1,239.7 L1248.7,237.8 L1250.3,235.9 L1252.0,234.0 L1253.7,232.2 L1255.4,230.3 L1257.1,228.5 L1258.8,226.7 L1260.5,224.8 L1262.3,223.0 L1264.0,221.3 L1265.8,219.5 L1267.6,217.7 L1269.3,216.0 L1271.2,214.2 L1273.0,212.5 L1274.8,210.8 L1276.7,209.1 L1278.5,207.5 L1280.4,205.8 L1282.3,204.2 L1284.2,202.5 L1286.1,200.9 L1288.1,199.3 L1290.0,197.7 L1292.0,196.2 L1293.9,194.6 L1295.9,193.1 L1297.9,191.6 L1299.9,190.1 L1301.9,188.6 L1304.0,187.1 L1306.0,185.7 L1308.1,184.3 L1310.5,182.6" fill="none" stroke="#de9545" stroke-width="5.5" stroke-dasharray="24 5.7 2.6 6.6 2.6 6.6"/>
<path d="M1310.8,182.6 L1310.8,1121.0" fill="none" stroke="#de9545" stroke-width="5.5" stroke-dasharray="41.5 10.5 4 11.5 4 11.7" stroke-dashoffset="-1.4"/>
<g font-family="Liberation Serif, serif" font-weight="bold" font-size="43.5" fill="#15128a"><text x="185.2" y="1136.2" text-anchor="end" textLength="26.5" lengthAdjust="spacingAndGlyphs">0</text><text x="185.2" y="1018.7" text-anchor="end" textLength="26.5" lengthAdjust="spacingAndGlyphs">2</text><text x="185.2" y="901.2" text-anchor="end" textLength="26.5" lengthAdjust="spacingAndGlyphs">4</text><text x="185.2" y="783.7" text-anchor="end" textLength="26.5" lengthAdjust="spacingAndGlyphs">6</text><text x="185.2" y="666.2" text-anchor="end" textLength="26.5" lengthAdjust="spacingAndGlyphs">8</text><text x="185.2" y="548.7" text-anchor="end" textLength="52.5" lengthAdjust="spacingAndGlyphs">10</text><text x="185.2" y="431.2" text-anchor="end" textLength="52.5" lengthAdjust="spacingAndGlyphs">12</text><text x="185.2" y="313.7" text-anchor="end" textLength="52.5" lengthAdjust="spacingAndGlyphs">14</text><text x="185.2" y="196.2" text-anchor="end" textLength="52.5" lengthAdjust="spacingAndGlyphs">16</text><text x="185.2" y="78.7" text-anchor="end" textLength="52.5" lengthAdjust="spacingAndGlyphs">18</text><text x="221.0" y="1196.8" text-anchor="middle" textLength="26.5" lengthAdjust="spacingAndGlyphs">0</text><text x="523.2" y="1196.8" text-anchor="middle" textLength="75.5" lengthAdjust="spacingAndGlyphs">200</text><text x="825.4" y="1196.8" text-anchor="middle" textLength="75.5" lengthAdjust="spacingAndGlyphs">400</text><text x="1127.6" y="1196.8" text-anchor="middle" textLength="75.5" lengthAdjust="spacingAndGlyphs">600</text><text x="1429.8" y="1196.8" text-anchor="middle" textLength="75.5" lengthAdjust="spacingAndGlyphs">800</text><text x="1732.0" y="1196.8" text-anchor="middle" textLength="102" lengthAdjust="spacingAndGlyphs">1000</text></g>
<text x="856" y="1293" font-family="Liberation Serif, serif" font-weight="bold" font-size="52" fill="#15128a" textLength="237" lengthAdjust="spacingAndGlyphs">Strain (%)</text>
<g transform="translate(88,739) rotate(-90)" font-family="Liberation Serif, serif" font-weight="bold" font-size="53" fill="#15128a"><text x="0" y="0" textLength="144" lengthAdjust="spacingAndGlyphs">Stress</text><text x="157" y="0" textLength="132" lengthAdjust="spacingAndGlyphs">(MPa)</text></g>
<line x1="311.5" y1="149.3" x2="564.8" y2="149.3" stroke="#2622b4" stroke-width="5.6"/>
<line x1="313.4" y1="222.7" x2="557.5" y2="222.7" stroke="#000" stroke-width="12" stroke-linecap="round" stroke-dasharray="0 22.14"/>
<line x1="310.6" y1="300.5" x2="557" y2="300.5" stroke="#45aa40" stroke-width="6" stroke-dasharray="33 9.2"/>
<line x1="310.6" y1="378.3" x2="551" y2="378.3" stroke="#de9545" stroke-width="5.5" stroke-dasharray="42 10 4 12 4 12"/>
<text x="627.5" y="169.4" font-family="Liberation Serif, serif" font-weight="bold" font-size="50" fill="#15128a" textLength="90" lengthAdjust="spacingAndGlyphs">EPC</text>
<text x="627.5" y="234.4" font-family="Liberation Serif, serif" font-weight="bold" font-size="50" fill="#15128a" textLength="90" lengthAdjust="spacingAndGlyphs">EPC</text>
<text transform="translate(716.5,244.9) scale(1.4,1.3)" x="0" y="0" font-family="Liberation Serif, serif" font-weight="bold" font-size="50" fill="#15128a">/</text>
<text x="739.5" y="234.4" font-family="Liberation Serif, serif" font-weight="bold" font-size="50" fill="#15128a" textLength="76" lengthAdjust="spacingAndGlyphs">SiO</text>
<text class="sub" x="819" y="247.0" font-family="Liberation Sans, sans-serif" font-size="48" fill="#15128a">2</text>
<text x="860.5" y="234.4" font-family="Liberation Serif, serif" font-weight="bold" font-size="50" fill="#15128a" textLength="117" lengthAdjust="spacingAndGlyphs">(1%)</text>
<text x="627.5" y="311.9" font-family="Liberation Serif, serif" font-weight="bold" font-size="50" fill="#15128a" textLength="90" lengthAdjust="spacingAndGlyphs">EPC</text>
<text transform="translate(716.5,322.4) scale(1.4,1.3)" x="0" y="0" font-family="Liberation Serif, serif" font-weight="bold" font-size="50" fill="#15128a">/</text>
<text x="739.5" y="311.9" font-family="Liberation Serif, serif" font-weight="bold" font-size="50" fill="#15128a" textLength="76" lengthAdjust="spacingAndGlyphs">SiO</text>
<text class="sub" x="819" y="324.5" font-family="Liberation Sans, sans-serif" font-size="48" fill="#15128a">2</text>
<text x="860.5" y="311.9" font-family="Liberation Serif, serif" font-weight="bold" font-size="50" fill="#15128a" textLength="117" lengthAdjust="spacingAndGlyphs">(3%)</text>
<text x="627.5" y="388.7" font-family="Liberation Serif, serif" font-weight="bold" font-size="50" fill="#15128a" textLength="90" lengthAdjust="spacingAndGlyphs">EPC</text>
<text transform="translate(716.5,399.2) scale(1.4,1.3)" x="0" y="0" font-family="Liberation Serif, serif" font-weight="bold" font-size="50" fill="#15128a">/</text>
<text x="739.5" y="388.7" font-family="Liberation Serif, serif" font-weight="bold" font-size="50" fill="#15128a" textLength="76" lengthAdjust="spacingAndGlyphs">SiO</text>
<text class="sub" x="819" y="401.3" font-family="Liberation Sans, sans-serif" font-size="48" fill="#15128a">2</text>
<text x="860.5" y="388.7" font-family="Liberation Serif, serif" font-weight="bold" font-size="50" fill="#15128a" textLength="117" lengthAdjust="spacingAndGlyphs">(5%)</text>
</svg>
</body></html>
